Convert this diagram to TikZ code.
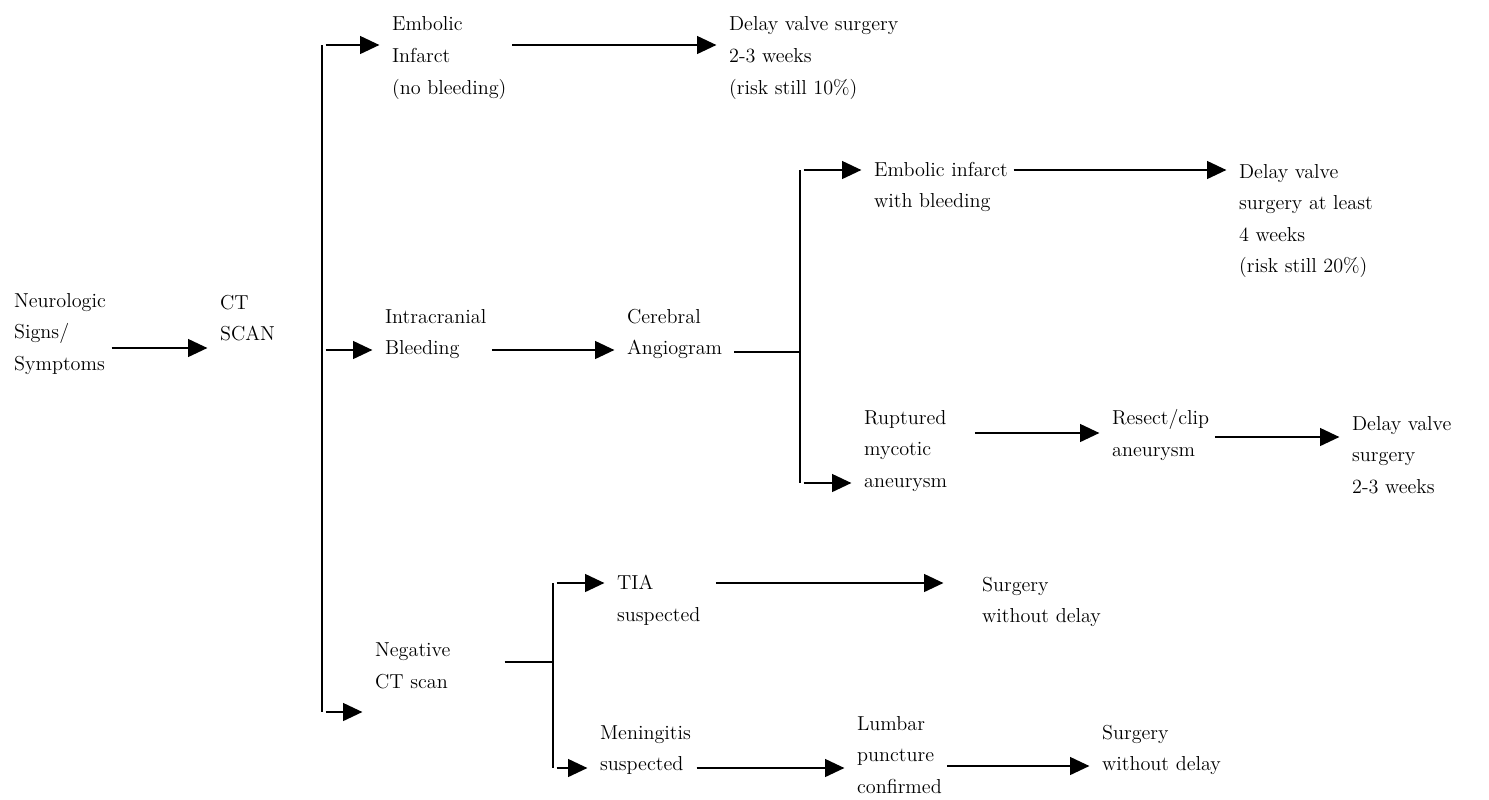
\documentclass[tikz,border=0pt]{standalone}
\usepackage{tikz}
\usetikzlibrary{positioning, arrows.meta, calc}

\begin{document}
\begin{tikzpicture}[
  x=0.02cm, y=-0.02cm,
  lbl/.style={align=left, anchor=west, inner xsep=1pt, inner ysep=0pt,
              font=\fontsize{11.5}{18}\selectfont},
  arr/.style={-{Triangle[length=11pt, width=10pt]}, line width=1.4pt,
              shorten <=2pt, shorten >=6pt},
  trunk/.style={line width=1pt},
]
\useasboundingbox (0,0) rectangle (1489,799);

% left part
\node[lbl] (neuro) at (12,334)  {Neurologic\\Signs/\\Symptoms};
\node[lbl] (ct)    at (218,318) {CT\\SCAN};

% first branch
\node[lbl] (emb)  at (390,58)  {Embolic\\Infarct\\(no bleeding)};
\node[lbl] (dly1) at (727,58)  {Delay valve surgery\\2-3 weeks\\(risk still 10\%)};
\node[lbl] (icb)  at (383,334) {Intracranial\\Bleeding};
\node[lbl] (ang)  at (625,334) {Cerebral\\Angiogram};
\node[lbl] (neg)  at (373,666) {Negative\\CT scan};

% after angiogram
\node[lbl] (ewb)  at (872,187)  {Embolic infarct\\with bleeding};
\node[lbl] (dly2) at (1237,221) {Delay valve\\surgery at least\\4 weeks\\(risk still 20\%)};
\node[lbl] (rma)  at (862,451)  {Ruptured\\mycotic\\aneurysm};
\node[lbl] (rc)   at (1110,435) {Resect/clip\\aneurysm};
\node[lbl] (dly3) at (1350,455) {Delay valve\\surgery\\2-3 weeks};

% after negative scan
\node[lbl] (tia)  at (615,600)  {TIA\\suspected};
\node[lbl] (sw1)  at (980,602)  {Surgery\\without delay};
\node[lbl] (men)  at (598,750)  {Meningitis\\suspected};
\node[lbl] (lum)  at (855,755)  {Lumbar\\puncture\\confirmed};
\node[lbl] (sw2)  at (1100,750) {Surgery\\without delay};

% branch points
\coordinate (ja) at (322,45);
\coordinate (jb) at (322,350);
\coordinate (jc) at (322,712);
\coordinate (ka) at (800,170);
\coordinate (kb) at (800,352);
\coordinate (kc) at (800,483);
\coordinate (ma) at (553,583);
\coordinate (mb) at (553,662);
\coordinate (mc) at (553,768);

\draw[arr] ($(neuro.east)+(0,14)$) -- ($(ct.west)+(0,30)$);

\draw[trunk] (ja) -- (jc);
\draw[arr] (ja) -- (emb.west |- ja);
\draw[arr] (jb) -- (icb.west |- jb);
\draw[arr] (jc) -- ($(neg.west)+(0,46)$);

\draw[arr] ($(emb.east)+(0,-13)$) -- ($(dly1.west)+(0,-13)$);
\draw[arr] ($(icb.east)+(0,16)$) -- ($(ang.west)+(0,16)$);

\draw[trunk] ($(ang.east)+(10,18)$) -- (kb);
\draw[trunk] (ka) -- (kc);
\draw[arr] (ka) -- (ewb.west |- ka);
\draw[arr] (kc) -- (rma.west |- kc);
\draw[arr] ($(ewb.east)+(0,-17)$) -- ($(dly2.west)+(0,-51)$);
\draw[arr] ($(rma.east)+(22,-18)$) -- ($(rc.west)+(0,-2)$);
\draw[arr] ($(rc.east)+(0,2)$) -- ($(dly3.west)+(0,-18)$);

\draw[trunk] ($(neg.east)+(52,-4)$) -- (mb);
\draw[trunk] (ma) -- (mc);
\draw[arr] (ma) -- (tia.west |- ma);
\draw[arr] (mc) -- (men.west |- mc);
\draw[arr] ($(tia.east)+(10,-17)$) -- ($(sw1.west)+(-26,-19)$);
\draw[arr] ($(men.east)+(0,18)$) -- ($(lum.west)+(0,13)$);
\draw[arr] ($(lum.east)+(0,11)$) -- ($(sw2.west)+(0,16)$);
\end{tikzpicture}
\end{document}
